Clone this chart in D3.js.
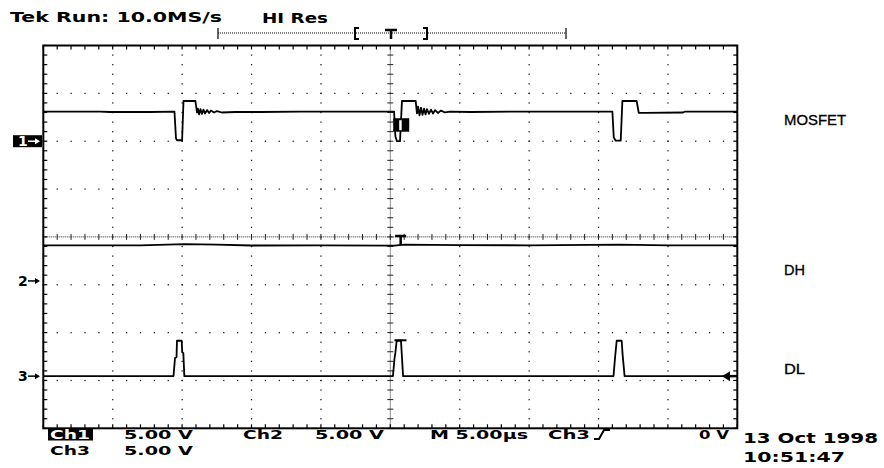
<!DOCTYPE html>
<html>
<head>
<meta charset="utf-8">
<script src="https://cdn.jsdelivr.net/npm/d3@7"></script>
<style>
  body { margin: 0; background: #fff; }
  svg { display: block; }
  .tek { font-family: "DejaVu Sans", sans-serif; font-weight: bold; font-size: 14px; fill: #000; }
  .foot { font-size: 13px; }
  .lbl { font-family: "Liberation Sans", Arial, sans-serif; font-size: 14px; fill: #000; stroke: #000; stroke-width: 0.3px; }
</style>
</head>
<body>
<svg width="884" height="468"></svg>
<script>
// time in microseconds (5 us/div, trigger at centre), values in volts (5 V/div)
const mosfet = [
  [-25, 3.1], [-20.9, 3.1], [-20.2, 3.05], [-17.3, 3.05], [-15.55, 3.1],
  [-15.44, 0.3], [-15.37, 0.1], [-15.0, 0.1], [-14.9, 4.2], [-14.04, 4.2],
  [-13.93, 3.0], [-13.86, 3.4], [-13.78, 2.8], [-13.68, 3.35], [-13.57, 2.85],
  [-13.46, 3.3], [-13.35, 2.9], [-13.2, 3.25], [-13.06, 2.95], [-12.92, 3.2],
  [-12.7, 3.0], [-12.49, 3.15], [-12.13, 3.0], [-11.19, 3.05], [-9.39, 3.05],
  [-6.5, 3.1], [-0.74, 3.1], [0.27, 3.1], [0.37, 0.5], [0.48, 0.0],
  [0.7, 0.0], [0.84, 4.2], [1.83, 4.2], [1.92, 2.9], [2.0, 3.6],
  [2.1, 2.7], [2.21, 3.5], [2.32, 2.75], [2.43, 3.4], [2.54, 2.8],
  [2.64, 3.35], [2.79, 2.85], [2.93, 3.3], [3.08, 2.9], [3.22, 3.25],
  [3.43, 2.95], [3.65, 3.2], [3.94, 3.0], [4.3, 3.1], [5.74, 3.05],
  [9.34, 3.1], [15.1, 3.1], [16.0, 3.1], [16.1, 0.4], [16.24, 0.05],
  [16.6, 0.05], [16.72, 4.2], [17.75, 4.2], [17.9, 2.95], [18.35, 2.95],
  [21.1, 3.0], [21.24, 3.1], [25, 3.1]
];
const dh = [
  [-25, 3.72], [-18, 3.72], [-14.8, 3.85], [-12.5, 3.8], [-10, 3.7],
  [-5, 3.72], [0.3, 3.68], [1, 3.8], [5, 3.75], [10, 3.72],
  [16.5, 3.8], [20, 3.72], [25, 3.72]
];
const dl = [
  [-25, 0], [-15.62, 0], [-15.51, 1.9], [-15.4, 2.0], [-15.37, 3.7],
  [-15.03, 3.7], [-14.99, 2.5], [-14.91, 2.4], [-14.84, 0], [0.19, 0],
  [0.3, 1.8], [0.37, 2.5], [0.46, 3.7], [0.77, 3.7], [0.84, 2.0],
  [0.92, 0], [16.08, 0], [16.19, 1.9], [16.31, 3.7], [16.67, 3.7],
  [16.74, 2.2], [16.88, 0], [25, 0]
];
// channel ground positions, in divisions from screen centre
const channels = [
  { name: 'MOSFET', id: '1', offset: 2.0, data: mosfet, labelDy: -16 },
  { name: 'DH', id: '2', offset: -0.92, data: dh, labelDy: -6 },
  { name: 'DL', id: '3', offset: -2.91, data: dl, labelDy: -2 }
];
const footerRow1 = [['5.00 V', 124, 69], ['Ch2', 243, 40], ['5.00 V', 315, 69], ['M 5.00µs', 430, 98], ['Ch3', 548, 42], ['0 V', 699, 30]];
const footerRow2 = [['Ch3', 50, 40], ['5.00 V', 124, 69]];

const svg = d3.select('svg');
const L = 43.3, R = 737.3, T = 45.5, B = 428.3;
const x = d3.scaleLinear().domain([-25, 25]).range([L, R]);
const yDiv = d3.scaleLinear().domain([-4, 4]).range([B, T]);

// graticule dots
const grid = svg.append('g').attr('fill', '#222');
d3.range(-3, 4).filter(k => k !== 0).forEach(k => {
  grid.selectAll(null).data(d3.range(-25, 25.01, 1)).enter().append('rect')
    .attr('x', d => x(d) - 0.6).attr('y', yDiv(k) - 0.6).attr('width', 1.3).attr('height', 1.3);
});
d3.range(-20, 20.01, 5).filter(t => t !== 0).forEach(t => {
  grid.selectAll(null).data(d3.range(-4, 4.01, 0.2)).enter().append('rect')
    .attr('x', x(t) - 0.6).attr('y', d => yDiv(d) - 0.6).attr('width', 1.3).attr('height', 1.3);
});

// centre crosshair
const cross = svg.append('g').attr('stroke', '#222').attr('stroke-width', 1);
cross.append('line').attr('x1', L).attr('x2', R).attr('y1', yDiv(0)).attr('y2', yDiv(0)).attr('stroke-dasharray', '1,1');
cross.append('line').attr('x1', x(0)).attr('x2', x(0)).attr('y1', T).attr('y2', B).attr('stroke-dasharray', '1,1');
cross.selectAll(null).data(d3.range(-25, 25.01, 1)).enter().append('line')
  .attr('x1', d => x(d)).attr('x2', d => x(d)).attr('y1', yDiv(0) - 3).attr('y2', yDiv(0) + 3);
cross.selectAll(null).data(d3.range(-4, 4.01, 0.2)).enter().append('line')
  .attr('y1', d => yDiv(d)).attr('y2', d => yDiv(d)).attr('x1', x(0) - 3).attr('x2', x(0) + 3);

// border ticks
const ticks = svg.append('g').attr('stroke', '#000').attr('stroke-width', 1.2);
ticks.selectAll(null).data(d3.range(-25, 25.01, 1)).enter().append('line')
  .attr('x1', d => x(d)).attr('x2', d => x(d)).attr('y1', T).attr('y2', T + 4);
ticks.selectAll(null).data(d3.range(-25, 25.01, 1)).enter().append('line')
  .attr('x1', d => x(d)).attr('x2', d => x(d)).attr('y1', B).attr('y2', B - 4);
ticks.selectAll(null).data(d3.range(-4, 4.01, 0.2)).enter().append('line')
  .attr('y1', d => yDiv(d)).attr('y2', d => yDiv(d)).attr('x1', L).attr('x2', L + 4);
ticks.selectAll(null).data(d3.range(-4, 4.01, 0.2)).enter().append('line')
  .attr('y1', d => yDiv(d)).attr('y2', d => yDiv(d)).attr('x1', R).attr('x2', R - 4);

svg.append('rect').attr('x', L).attr('y', T).attr('width', R - L).attr('height', B - T)
  .attr('fill', 'none').attr('stroke', '#000').attr('stroke-width', 2);

// traces
channels.forEach(ch => {
  const y = d3.scaleLinear().domain([0, 5]).range([yDiv(ch.offset), yDiv(ch.offset + 1)]);
  ch.y = y;
  svg.append('path').datum(ch.data)
    .attr('d', d3.line().x(d => x(d[0])).y(d => y(d[1])))
    .attr('fill', 'none').attr('stroke', '#000').attr('stroke-width', 1.8).attr('stroke-linejoin', 'round');
  svg.append('text').attr('class', 'lbl').attr('x', 784).attr('y', y(0) + ch.labelDy)
    .attr('textLength', ch.name.length > 2 ? 62 : 21).attr('lengthAdjust', 'spacingAndGlyphs').text(ch.name);
});

// ground markers on the left
const gm = svg.append('g');
channels.forEach(ch => {
  const gy = ch.y(0);
  if (ch.id === '1') {
    gm.append('rect').attr('x', 13).attr('y', gy - 6).attr('width', 29).attr('height', 12).attr('fill', '#000');
  }
  const col = ch.id === '1' ? '#fff' : '#000';
  gm.append('text').attr('class', 'tek').attr('x', 18).attr('y', gy + 5).style('fill', col).text(ch.id);
  gm.append('line').attr('x1', 28).attr('x2', 36).attr('y1', gy).attr('y2', gy).attr('stroke', col).attr('stroke-width', 1.5);
  gm.append('path').attr('d', `M35,${gy - 3}L40,${gy}L35,${gy + 3}Z`).attr('fill', col);
});

// trigger markers
const yc1 = channels[0].y, yc3 = channels[2].y;
svg.append('rect').attr('x', x(0.21)).attr('y', yc1(2.4)).attr('width', 16).attr('height', 13.5).attr('fill', '#000');
svg.append('rect').attr('x', x(0.64)).attr('y', yc1(2.4) + 2).attr('width', 2.5).attr('height', 10).attr('fill', '#fff');
svg.append('path').attr('d', `M${x(0.35)},${yDiv(0) - 1}h11M${x(0.35) + 5.5},${yDiv(0) - 1}v9`)
  .attr('stroke', '#000').attr('stroke-width', 2.5).attr('fill', 'none');
svg.append('path').attr('d', `M${x(0.3)},${yc3(3.75)}h12`).attr('stroke', '#000').attr('stroke-width', 2);
const ty = yc3(0);
svg.append('path').attr('d', `M722,${ty}L730,${ty - 5}L730,${ty + 5}Z`).attr('fill', '#000');
svg.append('line').attr('x1', 728).attr('x2', 737).attr('y1', ty).attr('y2', ty).attr('stroke', '#000').attr('stroke-width', 2.5);

// header
svg.append('text').attr('class', 'tek').attr('x', 10).attr('y', 22).attr('textLength', 212).attr('lengthAdjust', 'spacingAndGlyphs').text('Tek Run: 10.0MS/s');
svg.append('text').attr('class', 'tek').attr('x', 262).attr('y', 23).attr('textLength', 66).attr('lengthAdjust', 'spacingAndGlyphs').text('HI Res');
const rec = svg.append('g').attr('stroke', '#000');
rec.append('line').attr('x1', 218).attr('x2', 566).attr('y1', 33).attr('y2', 33).attr('stroke-dasharray', '1,1').attr('stroke-width', 1);
rec.append('line').attr('x1', 218).attr('x2', 218).attr('y1', 28).attr('y2', 39).attr('stroke-width', 1.2);
rec.append('line').attr('x1', 566).attr('x2', 566).attr('y1', 28).attr('y2', 39).attr('stroke-width', 1.2);
rec.append('path').attr('d', 'M359,28H355V39H359M423,28H427V39H423').attr('fill', 'none').attr('stroke-width', 2);
rec.append('path').attr('d', 'M385,30H397M391,30V39').attr('fill', 'none').attr('stroke-width', 2.5);

// footer
svg.append('rect').attr('x', 48).attr('y', 429).attr('width', 45).attr('height', 11.5).attr('fill', '#000');
svg.append('text').attr('class', 'tek foot').attr('x', 50).attr('y', 439).attr('textLength', 40).attr('lengthAdjust', 'spacingAndGlyphs').style('fill', '#fff').text('Ch1');
footerRow1.forEach(([s, xx, w]) => {
  svg.append('text').attr('class', 'tek foot').attr('x', xx).attr('y', 439).attr('textLength', w).attr('lengthAdjust', 'spacingAndGlyphs').text(s);
});
footerRow2.forEach(([s, xx, w]) => {
  svg.append('text').attr('class', 'tek foot').attr('x', xx).attr('y', 455).attr('textLength', w).attr('lengthAdjust', 'spacingAndGlyphs').text(s);
});
svg.append('path').attr('d', 'M594,439H599L604,430H610').attr('fill', 'none').attr('stroke', '#000').attr('stroke-width', 2);
svg.append('text').attr('class', 'tek').attr('x', 743).attr('y', 443).attr('textLength', 135).attr('lengthAdjust', 'spacingAndGlyphs').text('13 Oct 1998');
svg.append('text').attr('class', 'tek').attr('x', 743).attr('y', 462).attr('textLength', 102).attr('lengthAdjust', 'spacingAndGlyphs').text('10:51:47');
</script>
</body>
</html>
